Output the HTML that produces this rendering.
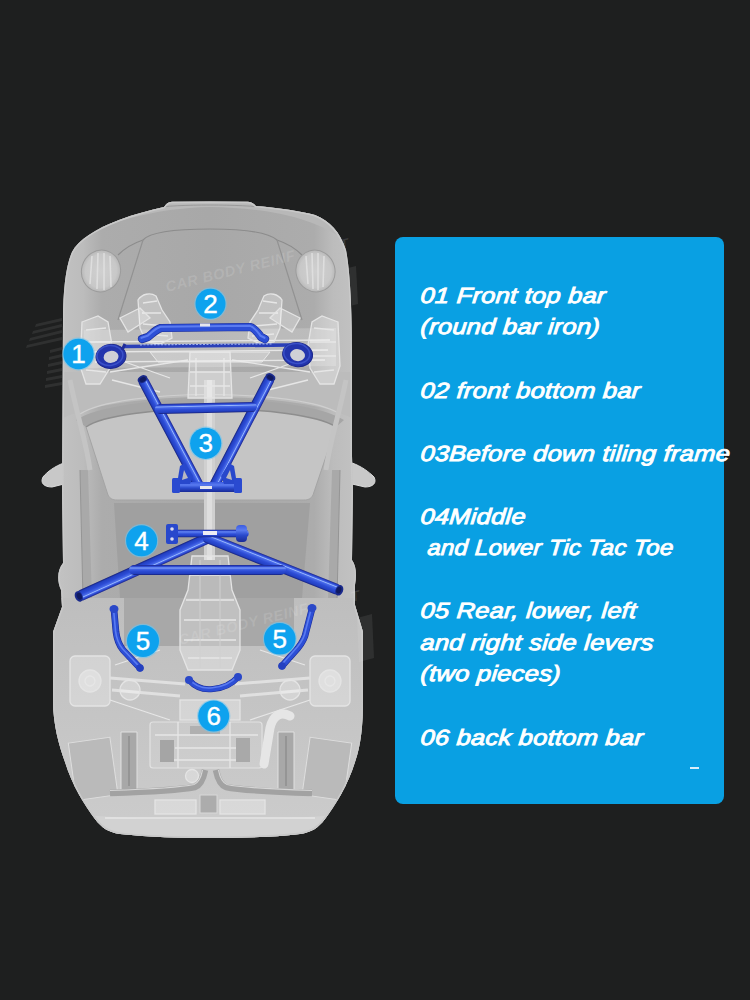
<!DOCTYPE html>
<html><head><meta charset="utf-8">
<style>
html,body{margin:0;padding:0;}
body{width:750px;height:1000px;overflow:hidden;background:#1e1f1f;position:relative;font-family:"Liberation Sans",sans-serif;}
#car{position:absolute;left:0;top:0;width:750px;height:1000px;}
.box{position:absolute;left:395px;top:237px;width:329px;height:567px;background:#09a0e3;border-radius:8px;}
.txt{position:absolute;left:420px;top:0;color:#fff;font:italic 22px "Liberation Sans",sans-serif;-webkit-text-stroke:0.9px #fff;letter-spacing:0.2px;font-kerning:normal;white-space:pre;}
.txt div{position:absolute;left:0;white-space:pre;transform:scaleX(1.16) skewX(-4deg);transform-origin:0 20px;}
</style></head>
<body>

<svg id="car" viewBox="0 0 750 1000">
<defs>
  <clipPath id="cb"><path d="M210,201.5 L248,201.8 C252,202 254,204 256,206 C280,208 300,211 315,215 C330,221 340,232 346,250 C350,270 352,310 352,350 L352,456 L353,490 L352,560 C356,565 357,575 355,585 L355,605 L363,632 L363,700 C363,725 361,745 355,762 C348,785 335,806 325,819 C318,828 312,832 300,834 C270,837.5 240,838 210,838 C180,838 150,837.5 120,834 C108,832 102,828 95,819 C85,806 72,785 65,762 C59,745 53,725 53,700 L53,632 L62,607 L61,590 C57,582 57,570 63,563 L62,490 L63,320 C63,290 66,265 72,252 C78,240 95,229 119,220 C135,214 150,210 164,207 C166,204 168,202 172,201.8 L210,201.5 Z"/></clipPath>
  <linearGradient id="bodyg" x1="52" y1="0" x2="364" y2="0" gradientUnits="userSpaceOnUse">
    <stop offset="0" stop-color="#c4c4c4"/>
    <stop offset="0.1" stop-color="#bcbcbc"/>
    <stop offset="0.16" stop-color="#acacac"/>
    <stop offset="0.5" stop-color="#a8a8a8"/>
    <stop offset="0.84" stop-color="#acacac"/>
    <stop offset="0.9" stop-color="#bcbcbc"/>
    <stop offset="1" stop-color="#c4c4c4"/>
  </linearGradient>
  <linearGradient id="tg" x1="0" y1="0" x2="0" y2="1">
    <stop offset="0" stop-color="#1a2488"/>
    <stop offset="0.12" stop-color="#2a44c8"/>
    <stop offset="0.22" stop-color="#4062e6"/>
    <stop offset="0.3" stop-color="#9ab8fc"/>
    <stop offset="0.38" stop-color="#4a6cea"/>
    <stop offset="0.6" stop-color="#2d4dd6"/>
    <stop offset="0.85" stop-color="#2340c2"/>
    <stop offset="1" stop-color="#151f78"/>
  </linearGradient>
  <linearGradient id="tgv" x1="0" y1="0" x2="0" y2="1">
    <stop offset="0" stop-color="#3a5be0"/>
    <stop offset="0.3" stop-color="#5a7bf0"/>
    <stop offset="0.6" stop-color="#2a4acc"/>
    <stop offset="1" stop-color="#1a2b96"/>
  </linearGradient>
  <linearGradient id="rearg" x1="0" y1="0" x2="0" y2="1">
    <stop offset="0" stop-color="#bebebe"/>
    <stop offset="1" stop-color="#cdcdcd"/>
  </linearGradient>
  <radialGradient id="hl" cx="0.5" cy="0.5" r="0.5">
    <stop offset="0" stop-color="#d0d0d0"/>
    <stop offset="0.8" stop-color="#c8c8c8"/>
    <stop offset="1" stop-color="#b8b8b8"/>
  </radialGradient>
</defs>
<path d="M84,461 L64,463 C55,466 47,472 43,477 C40,483 44,487 52,487 L64,484 L84,484 Z" fill="#c8c8c8" stroke="#dcdcdc" stroke-width="1"/>
<path d="M330,461 L352,463 C361,466 369,472 374,477 C377,483 373,487 365,487 L352,484 L330,484 Z" fill="#c8c8c8" stroke="#dcdcdc" stroke-width="1"/>
<path d="M210,201.5 L248,201.8 C252,202 254,204 256,206 C280,208 300,211 315,215 C330,221 340,232 346,250 C350,270 352,310 352,350 L352,456 L353,490 L352,560 C356,565 357,575 355,585 L355,605 L363,632 L363,700 C363,725 361,745 355,762 C348,785 335,806 325,819 C318,828 312,832 300,834 C270,837.5 240,838 210,838 C180,838 150,837.5 120,834 C108,832 102,828 95,819 C85,806 72,785 65,762 C59,745 53,725 53,700 L53,632 L62,607 L61,590 C57,582 57,570 63,563 L62,490 L63,320 C63,290 66,265 72,252 C78,240 95,229 119,220 C135,214 150,210 164,207 C166,204 168,202 172,201.8 L210,201.5 Z" fill="url(#bodyg)"/>
<g clip-path="url(#cb)">
  <!-- front bumper band -->
  <path d="M60,250 C90,226 150,208 210,207 C270,208 320,218 352,246 L360,195 L55,195 Z" fill="#b8b8b8"/>
  <path d="M150,208 C180,204 240,204 270,208" fill="none" stroke="#9a9a9a" stroke-width="1"/>
  <!-- hood panel -->
  <path d="M118,255 C126,247 134,243 143,240 C150,232 175,229 210,229 C245,229 268,232 277,240 C286,243 294,247 302,255" fill="none" stroke="#8c8c8c" stroke-width="1.2"/>
  <path d="M143,240 L118,320 M277,240 L302,320" fill="none" stroke="#929292" stroke-width="1.2"/>
  <!-- headlights -->
  <ellipse cx="101" cy="271" rx="19.5" ry="21" fill="url(#hl)" stroke="#9c9c9c" stroke-width="1" transform="rotate(15 101 271)"/>
  <ellipse cx="315.5" cy="271" rx="19.5" ry="21" fill="url(#hl)" stroke="#9c9c9c" stroke-width="1" transform="rotate(-15 315.5 271)"/>
  <path d="M92,256 L90,284 M98,253 L97,289 M104,253 L104,290 M110,256 L111,287" stroke="#e2e2e2" stroke-width="1.6" fill="none" opacity="0.8"/>
  <path d="M306,256 L308,284 M312,253 L313,289 M318,253 L318,290 M324,256 L323,287" stroke="#e2e2e2" stroke-width="1.6" fill="none" opacity="0.8"/>
  <!-- cowl -->
  <path d="M63,372 L352,372 L352,418 C300,390 120,390 63,418 Z" fill="#bcbcbc"/>
  <path d="M76,420 C120,392 300,392 344,420 L336,427 C300,403 120,403 86,427 Z" fill="#a6a6a6"/>
  <path d="M80,414 C120,388 300,388 340,414" fill="none" stroke="#cfcfcf" stroke-width="1.2"/>
  <!-- windshield -->
  <path d="M86,427 C120,403 300,403 336,427 L313,495 C311,499 308,500 304,500 L117,500 C113,500 110,499 108,495 Z" fill="#c5c5c5"/>
  <path d="M86,427 C120,403 300,403 336,427" fill="none" stroke="#8e8e8e" stroke-width="1.5"/>
  <path d="M336,427 L313,495 C311,499 308,500 304,500 L117,500 C113,500 110,499 108,495 L86,427" fill="none" stroke="#a4a4a4" stroke-width="1"/>
  <!-- roof -->
  <path d="M114,503 L310,503 L302,598 L120,598 Z" fill="#a0a0a0"/>
  <!-- side structures -->
  <path d="M80,470 L88,470 L92,600 L83,600 Z" fill="#a9a9a9"/>
  <path d="M340,470 L332,470 L328,600 L337,600 Z" fill="#a9a9a9"/>
  <path d="M80,470 L83,600 M340,470 L337,600" fill="none" stroke="#959595" stroke-width="1"/>
  <path d="M70,380 C78,420 86,440 90,470" fill="none" stroke="#c4c4c4" stroke-width="5"/>
  <path d="M346,380 C338,420 330,440 326,470" fill="none" stroke="#c4c4c4" stroke-width="5"/>
  <!-- central tunnel -->
  <rect x="204" y="380" width="11" height="180" fill="#d0d0d0"/>
  <rect x="207" y="380" width="5" height="180" fill="#dedede"/>
  <!-- rear area -->
  <path d="M40,598 L380,598 L380,850 L40,850 Z" fill="url(#rearg)"/>
  <rect x="124" y="598" width="170" height="48" fill="#a8a8a8"/>
  <rect x="72" y="740" width="42" height="58" fill="#bababa" stroke="#dedede" stroke-width="1" transform="rotate(-8 92 768)"/>
  <rect x="306" y="740" width="42" height="58" fill="#bababa" stroke="#dedede" stroke-width="1" transform="rotate(8 328 768)"/>
  <path d="M60,812 C120,822 300,822 360,812 L360,850 L60,850 Z" fill="#d2d2d2"/>
  <path d="M84,330 L336,328 L336,366 L84,368 Z" fill="#ffffff" fill-opacity="0.2"/>
<path d="M90,342 L330,340 M92,352 L328,350 M95,362 L325,360" fill="none" stroke="#e6e6e6" stroke-width="1.3"/>
<path d="M138,300 C142,294 150,292 156,296 L162,310 L170,322 L172,338 L160,344 L146,342 L140,328 Z" fill="rgba(255,255,255,0.28)" stroke="#e4e4e4" stroke-width="1.3"/>
<path d="M143,303 L157,301 M142,313 L161,313 M143,324 L166,326 M146,334 L168,336" fill="none" stroke="#e6e6e6" stroke-width="1.3"/>
<path d="M120,318 L140,308 L150,318 L128,332 Z" fill="rgba(255,255,255,0.28)" stroke="#e4e4e4" stroke-width="1.3"/>
<path d="M282,300 C278,294 270,292 264,296 L258,310 L250,322 L248,338 L260,344 L274,342 L280,328 Z" fill="rgba(255,255,255,0.28)" stroke="#e4e4e4" stroke-width="1.3"/>
<path d="M277,303 L263,301 M278,313 L259,313 M277,324 L254,326 M274,334 L252,336" fill="none" stroke="#e6e6e6" stroke-width="1.3"/>
<path d="M300,318 L280,308 L270,318 L292,332 Z" fill="rgba(255,255,255,0.28)" stroke="#e4e4e4" stroke-width="1.3"/>
<path d="M82,322 L98,316 L108,322 L112,345 L110,368 L100,384 L86,384 L80,366 Z" fill="rgba(255,255,255,0.28)" stroke="#e4e4e4" stroke-width="1.3"/>
<path d="M86,330 L106,328 M84,342 L110,342 M84,356 L110,356 M86,370 L106,372" fill="none" stroke="#e6e6e6" stroke-width="1.3"/>
<path d="M338,322 L322,316 L312,322 L308,345 L310,368 L320,384 L334,384 L340,366 Z" fill="rgba(255,255,255,0.28)" stroke="#e4e4e4" stroke-width="1.3"/>
<path d="M334,330 L314,328 M336,342 L310,342 M336,356 L310,356 M334,370 L314,372" fill="none" stroke="#e6e6e6" stroke-width="1.3"/>
<path d="M110,372 L188,360 M112,380 L160,392 M310,372 L232,360 M308,380 L260,392 M125,362 L170,378 M295,362 L250,378" fill="none" stroke="#e6e6e6" stroke-width="1.3"/>
<path d="M190,352 L230,352 L232,398 L188,398 Z" fill="rgba(255,255,255,0.28)" stroke="#e4e4e4" stroke-width="1.3"/>
<path d="M196,358 L196,396 M224,358 L224,396 M190,372 L230,372 M190,386 L230,386" fill="none" stroke="#e6e6e6" stroke-width="1.3"/>
<path d="M150,352 L270,352 L262,362 L158,362 Z" fill="#ffffff" fill-opacity="0.22" stroke="#e8e8e8" stroke-width="1"/>
<path d="M192,556 L228,556 L232,590 L240,610 L240,650 L232,670 L188,670 L180,650 L180,610 L188,590 Z" fill="rgba(255,255,255,0.28)" stroke="#e4e4e4" stroke-width="1.3"/>
<path d="M190,575 L230,575 M186,600 L234,600 M184,620 L236,620 M184,640 L236,640 M188,658 L232,658" fill="none" stroke="#e6e6e6" stroke-width="1.3"/>
<path d="M200,560 L200,668 M220,560 L220,668" stroke="#d0d0d0" stroke-width="1"/>
<rect x="70" y="656" width="40" height="50" rx="5" fill="rgba(255,255,255,0.28)" stroke="#e4e4e4" stroke-width="1.3"/>
<circle cx="90" cy="681" r="11" fill="rgba(255,255,255,0.28)" stroke="#e4e4e4" stroke-width="1.3"/>
<circle cx="90" cy="681" r="5" fill="none" stroke="#e6e6e6" stroke-width="1.3"/>
<rect x="310" y="656" width="40" height="50" rx="5" fill="rgba(255,255,255,0.28)" stroke="#e4e4e4" stroke-width="1.3"/>
<circle cx="330" cy="681" r="11" fill="rgba(255,255,255,0.28)" stroke="#e4e4e4" stroke-width="1.3"/>
<circle cx="330" cy="681" r="5" fill="none" stroke="#e6e6e6" stroke-width="1.3"/>
<path d="M110,678 L185,684 M235,684 L310,678 M112,690 L180,696 M240,696 L308,690" stroke="#e0e0e0" stroke-width="3" fill="none"/>
<path d="M110,700 L170,720 M310,700 L250,720 M115,665 L160,650 M305,665 L260,650" fill="none" stroke="#e6e6e6" stroke-width="1.3"/>
<circle cx="130" cy="690" r="10" fill="rgba(255,255,255,0.28)" stroke="#e4e4e4" stroke-width="1.3"/><circle cx="290" cy="690" r="10" fill="rgba(255,255,255,0.28)" stroke="#e4e4e4" stroke-width="1.3"/>
<rect x="150" y="722" width="112" height="46" rx="3" fill="#ffffff" fill-opacity="0.1" stroke="#e2e2e2" stroke-width="1.2"/>
<path d="M155,735 L258,735 M175,748 L245,748 M160,760 L250,760 M178,722 L178,768 M230,722 L230,768" fill="none" stroke="#e6e6e6" stroke-width="1.3"/>
<rect x="160" y="740" width="14" height="22" fill="#a5a5a5"/><rect x="236" y="738" width="14" height="24" fill="#a9a9a9"/><rect x="190" y="726" width="30" height="8" fill="#b0b0b0"/>
<rect x="180" y="700" width="60" height="20" fill="rgba(255,255,255,0.28)" stroke="#e4e4e4" stroke-width="1.3"/>
<path d="M121,732 L137,732 L137,790 L121,790 Z" fill="#a8a8a8" stroke="#e0e0e0" stroke-width="1"/>
<path d="M278,732 L294,732 L294,790 L278,790 Z" fill="#a8a8a8" stroke="#e0e0e0" stroke-width="1"/>
<path d="M129,736 L129,786 M286,736 L286,786" stroke="#959595" stroke-width="2"/>
<path d="M290,716 C281,711 273,715 270,728 L264,764" stroke="#e6e6e6" stroke-width="9" fill="none" stroke-linecap="round"/>
<circle cx="192" cy="776" r="6.5" fill="rgba(255,255,255,0.28)" stroke="#e4e4e4" stroke-width="1.3"/>
<path d="M110,793 C140,792 180,790 195,787 C200,785 203,780 205,770 M312,793 C282,792 240,790 226,787 C221,785 218,780 216,770" stroke="#a2a2a2" stroke-width="6.5" fill="none"/>
<path d="M110,790.5 C140,789.5 180,787.5 194,784.5 C198,783 201,778 202.5,770 M312,790.5 C282,789.5 240,787.5 227,784.5 C223,783 220,778 218.5,770" stroke="#d6d6d6" stroke-width="1.2" fill="none"/>
<rect x="155" y="800" width="41" height="14" fill="rgba(255,255,255,0.28)" stroke="#e4e4e4" stroke-width="1.3"/><rect x="220" y="800" width="45" height="14" fill="rgba(255,255,255,0.28)" stroke="#e4e4e4" stroke-width="1.3"/>
<rect x="200" y="795" width="17" height="18" fill="#acacac" stroke="#d8d8d8" stroke-width="1"/>
<path d="M105,818 L315,818" fill="none" stroke="#e6e6e6" stroke-width="1.3"/>
  <!-- body rim highlight -->
  <path d="M210,201.5 L248,201.8 C252,202 254,204 256,206 C280,208 300,211 315,215 C330,221 340,232 346,250 C350,270 352,310 352,350 L352,456 L353,490 L352,560 C356,565 357,575 355,585 L355,605 L363,632 L363,700 C363,725 361,745 355,762 C348,785 335,806 325,819 C318,828 312,832 300,834 C270,837.5 240,838 210,838 C180,838 150,837.5 120,834 C108,832 102,828 95,819 C85,806 72,785 65,762 C59,745 53,725 53,700 L53,632 L62,607 L61,590 C57,582 57,570 63,563 L62,490 L63,320 C63,290 66,265 72,252 C78,240 95,229 119,220 C135,214 150,210 164,207 C166,204 168,202 172,201.8 L210,201.5 Z" fill="none" stroke="#c8c8c8" stroke-width="3"/>
</g>

<!-- watermarks -->
<g font-family="Liberation Sans" font-weight="bold" font-style="italic" font-size="14.5" fill="#ffffff" fill-opacity="0.13" letter-spacing="0.6">
  <text transform="translate(167,292) rotate(-14)">CAR BODY  REINF</text>
  <text transform="translate(180,645) rotate(-14)">CAR BODY  REINF</text>
  <text transform="translate(341,250) rotate(-14)" fill-opacity="0.12">T</text>
  <text transform="translate(352,602) rotate(-14)" fill-opacity="0.12">T</text>
</g>
<g fill="#ffffff" fill-opacity="0.08">
  <path d="M30,338 L62,330 L62,333 L29,341 Z M33,331 L62,324 L62,327 L32,334 Z M36,324 L62,318 L62,321 L35,327 Z M27,345 L62,337 L62,340 L26,348 Z"/>
  <path d="M50,350 L62,347 L62,350 L50,353 Z M49,357 L62,354 L62,357 L49,360 Z M48,364 L62,361 L62,364 L48,367 Z M47,371 L62,368 L62,371 L47,374 Z M46,378 L62,375 L62,378 L46,381 Z M45,385 L62,382 L62,385 L45,388 Z"/>
  <path d="M348,268 L356,266 L358,304 L350,306 Z"/>
  <path d="M357,618 L372,614 L374,658 L359,662 Z"/>
</g>
<path d="M124,346.5 L290,345" stroke="#2a3fb8" stroke-width="3.6" fill="none"/>
<path d="M140,344.8 L272,343.8" stroke="#9fb0ea" stroke-width="1.2" fill="none" stroke-dasharray="2 1.5"/>
<g transform="rotate(-6 111 356.4)"><ellipse cx="111" cy="356.4" rx="15" ry="12" fill="#2335ad" stroke="#1a268c" stroke-width="1"/><ellipse cx="110" cy="355.4" rx="13" ry="10" fill="none" stroke="#4058d0" stroke-width="1.5" opacity="0.8"/><ellipse cx="111" cy="356.9" rx="7.5" ry="6" fill="#cfd0d6"/></g>
<g transform="rotate(8 297.6 354.6)"><ellipse cx="297.6" cy="354.6" rx="15" ry="12" fill="#2335ad" stroke="#1a268c" stroke-width="1"/><ellipse cx="296.6" cy="353.6" rx="13" ry="10" fill="none" stroke="#4058d0" stroke-width="1.5" opacity="0.8"/><ellipse cx="297.6" cy="355.1" rx="7.5" ry="6" fill="#cfd0d6"/></g>
<path d="M122,350 L125,344" stroke="#1e2c98" stroke-width="3"/>
<path d="M142,339 L148,337 C152,334 155,330 161,328 L250,327 C255,328 258,333 261,337 L265,339" fill="none" stroke="#1b2c98" stroke-width="8.2" stroke-linecap="round" stroke-linejoin="round"/><path d="M142,339 L148,337 C152,334 155,330 161,328 L250,327 C255,328 258,333 261,337 L265,339" fill="none" stroke="#2d4fd6" stroke-width="7" stroke-linecap="round" stroke-linejoin="round"/><path d="M142,339 L148,337 C152,334 155,330 161,328 L250,327 C255,328 258,333 261,337 L265,339" fill="none" stroke="#5b7cf0" stroke-width="2.1" stroke-linecap="round" stroke-linejoin="round" transform="translate(-0.5,-1.2)"/>
<rect x="200" y="323.5" width="10" height="3" fill="#e6e6ee"/>
<g transform="translate(144,382) rotate(62.10)"><rect x="-5.2" y="-5.2" width="125.9" height="10.5" rx="5.2" fill="url(#tg)"/><ellipse cx="-3.2" cy="0" rx="3.7" ry="5.2" fill="#1a2a8c"/><ellipse cx="-2.8" cy="0" rx="2.3" ry="3.4" fill="#101a60"/></g>
<g transform="translate(269,380) rotate(117.44)"><rect x="-5.2" y="-5.2" width="127.7" height="10.5" rx="5.2" fill="url(#tg)"/><ellipse cx="-3.2" cy="0" rx="3.7" ry="5.2" fill="#1a2a8c"/><ellipse cx="-2.8" cy="0" rx="2.3" ry="3.4" fill="#101a60"/></g>
<g transform="translate(160,409) rotate(-1.25)"><rect x="-5.0" y="-5.0" width="102.0" height="10" rx="5.0" fill="url(#tg)"/></g>
<rect x="172" y="482" width="70" height="10" rx="2" fill="url(#tgv)"/>
<path d="M177,484 L180,466 L185,463 L193,476 L190,484 Z" fill="#2848cc"/><path d="M182,480 L184,470 L188,478 Z" fill="#b8b8c0"/><rect x="172" y="478" width="8" height="15" rx="1.5" fill="#2a4ad0"/>
<path d="M237,484 L234,466 L229,463 L221,476 L224,484 Z" fill="#2848cc"/><path d="M232,480 L230,470 L226,478 Z" fill="#b8b8c0"/><rect x="234" y="478" width="8" height="15" rx="1.5" fill="#2a4ad0"/>
<rect x="200" y="486" width="12" height="3" fill="#e6e6ee"/>
<g transform="translate(208,538) rotate(155.66)"><rect x="-5.5" y="-5.5" width="149.3" height="11" rx="5.5" fill="url(#tg)"/><ellipse cx="141.8" cy="0" rx="3.8" ry="5.5" fill="#1a2a8c"/><ellipse cx="141.3" cy="0" rx="2.4" ry="3.5" fill="#101a60"/></g>
<g transform="translate(208,538) rotate(21.72)"><rect x="-5.5" y="-5.5" width="148.8" height="11" rx="5.5" fill="url(#tg)"/><ellipse cx="141.3" cy="0" rx="3.8" ry="5.5" fill="#1a2a8c"/><ellipse cx="140.8" cy="0" rx="2.4" ry="3.5" fill="#101a60"/></g>
<g transform="translate(134,570) rotate(0.00)"><rect x="-5.0" y="-5.0" width="157.0" height="10" rx="5.0" fill="url(#tg)"/></g>
<g transform="translate(172,533.5) rotate(0.00)"><rect x="-3.8" y="-3.8" width="80.5" height="7.5" rx="3.8" fill="url(#tg)"/></g>
<rect x="166" y="524" width="12" height="20" rx="2" fill="#2848cc"/><circle cx="172" cy="529" r="1.8" fill="#dde"/><circle cx="172" cy="539" r="1.8" fill="#dde"/>
<rect x="236" y="525" width="11" height="17" rx="4" fill="url(#tgv)"/>
<rect x="203" y="531" width="14" height="4" fill="#eeeef4"/>
<path d="M114,610 L116,632 C117,640 119,645 123,650 L140,668" fill="none" stroke="#1b2c98" stroke-width="6.7" stroke-linecap="round" stroke-linejoin="round"/><path d="M114,610 L116,632 C117,640 119,645 123,650 L140,668" fill="none" stroke="#2d4fd6" stroke-width="5.5" stroke-linecap="round" stroke-linejoin="round"/><path d="M114,610 L116,632 C117,640 119,645 123,650 L140,668" fill="none" stroke="#5b7cf0" stroke-width="1.6" stroke-linecap="round" stroke-linejoin="round" transform="translate(-0.5,-1.2)"/>
<ellipse cx="114" cy="609" rx="4.5" ry="4" fill="#2a48c8"/><circle cx="140" cy="668" r="3.8" fill="#2440c0"/>
<path d="M312,609 L306,632 C305,638 302,643 298,648 L282,666" fill="none" stroke="#1b2c98" stroke-width="6.7" stroke-linecap="round" stroke-linejoin="round"/><path d="M312,609 L306,632 C305,638 302,643 298,648 L282,666" fill="none" stroke="#2d4fd6" stroke-width="5.5" stroke-linecap="round" stroke-linejoin="round"/><path d="M312,609 L306,632 C305,638 302,643 298,648 L282,666" fill="none" stroke="#5b7cf0" stroke-width="1.6" stroke-linecap="round" stroke-linejoin="round" transform="translate(-0.5,-1.2)"/>
<ellipse cx="312" cy="608" rx="4.5" ry="4" fill="#2a48c8"/><circle cx="282" cy="666" r="3.8" fill="#2440c0"/>
<path d="M189,680 C196,688 205,690 213,689 C224,688 232,684 238,677" fill="none" stroke="#1b2c98" stroke-width="6.2" stroke-linecap="round" stroke-linejoin="round"/><path d="M189,680 C196,688 205,690 213,689 C224,688 232,684 238,677" fill="none" stroke="#2d4fd6" stroke-width="5" stroke-linecap="round" stroke-linejoin="round"/><path d="M189,680 C196,688 205,690 213,689 C224,688 232,684 238,677" fill="none" stroke="#5b7cf0" stroke-width="1.5" stroke-linecap="round" stroke-linejoin="round" transform="translate(-0.5,-1.2)"/>
<circle cx="189" cy="680" r="4" fill="#2a48c8"/><circle cx="238" cy="677" r="4" fill="#2a48c8"/>
<circle cx="78.5" cy="354" r="16.4" fill="#6cc4f0" opacity="0.6"/><circle cx="78.5" cy="354" r="15.2" fill="#0ea2ee"/><text x="78.5" y="362.9" text-anchor="middle" font-family="Liberation Sans" font-size="26" fill="#fff" stroke="#fff" stroke-width="0.4">1</text>
<circle cx="210.5" cy="303.8" r="16.2" fill="#6cc4f0" opacity="0.6"/><circle cx="210.5" cy="303.8" r="15" fill="#0ea2ee"/><text x="210.5" y="312.7" text-anchor="middle" font-family="Liberation Sans" font-size="26" fill="#fff" stroke="#fff" stroke-width="0.4">2</text>
<circle cx="205.7" cy="443.3" r="16.8" fill="#6cc4f0" opacity="0.6"/><circle cx="205.7" cy="443.3" r="15.6" fill="#0ea2ee"/><text x="205.7" y="452.2" text-anchor="middle" font-family="Liberation Sans" font-size="26" fill="#fff" stroke="#fff" stroke-width="0.4">3</text>
<circle cx="141.6" cy="540.7" r="16.7" fill="#6cc4f0" opacity="0.6"/><circle cx="141.6" cy="540.7" r="15.5" fill="#0ea2ee"/><text x="141.6" y="549.6" text-anchor="middle" font-family="Liberation Sans" font-size="26" fill="#fff" stroke="#fff" stroke-width="0.4">4</text>
<circle cx="143" cy="641" r="17.2" fill="#6cc4f0" opacity="0.6"/><circle cx="143" cy="641" r="16" fill="#0ea2ee"/><text x="143" y="649.9" text-anchor="middle" font-family="Liberation Sans" font-size="26" fill="#fff" stroke="#fff" stroke-width="0.4">5</text>
<circle cx="279.8" cy="638.8" r="17.0" fill="#6cc4f0" opacity="0.6"/><circle cx="279.8" cy="638.8" r="15.8" fill="#0ea2ee"/><text x="279.8" y="647.7" text-anchor="middle" font-family="Liberation Sans" font-size="26" fill="#fff" stroke="#fff" stroke-width="0.4">5</text>
<circle cx="213.7" cy="716.1" r="16.7" fill="#6cc4f0" opacity="0.6"/><circle cx="213.7" cy="716.1" r="15.5" fill="#0ea2ee"/><text x="213.7" y="725.0" text-anchor="middle" font-family="Liberation Sans" font-size="26" fill="#fff" stroke="#fff" stroke-width="0.4">6</text>
</svg>

<div class="box"></div>
<div class="txt">
<div style="top:283.0px">01 Front top bar</div>
<div style="top:313.6px">(round bar iron)</div>
<div style="top:377.6px">02 front bottom bar</div>
<div style="top:440.6px">03Before down tiling frame</div>
<div style="top:503.7px">04Middle</div>
<div style="top:535.2px;transform:scaleX(1.094) skewX(-4deg)"> and Lower Tic Tac Toe</div>
<div style="top:598.3px">05 Rear, lower, left</div>
<div style="top:629.8px">and right side levers</div>
<div style="top:661.4px">(two pieces)</div>
<div style="top:724.9px">06 back bottom bar</div>
</div>
<div style="position:absolute;left:690px;top:767px;width:9px;height:2px;background:#d8eefa;"></div>
</body></html>
